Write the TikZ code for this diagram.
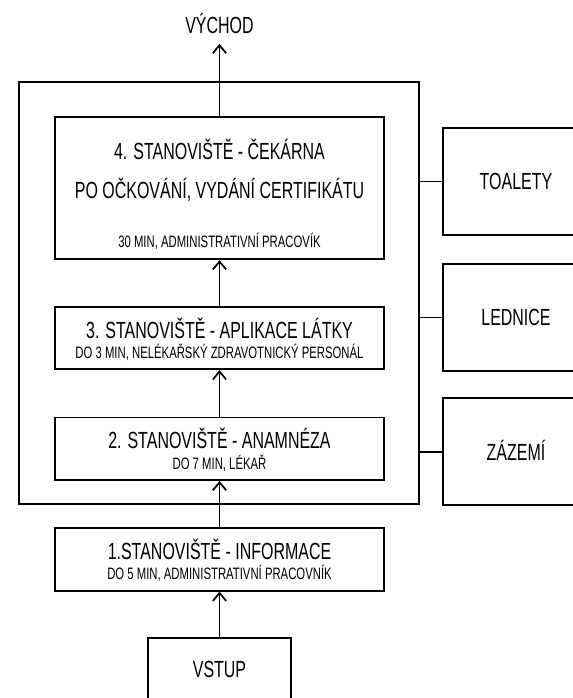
\documentclass[tikz,border=0pt]{standalone}
\usepackage{fontspec}
\setsansfont[FakeStretch=0.685]{Liberation Sans}
\usetikzlibrary{arrows.meta}
\tikzset{
  every picture/.style={font=\sffamily, line width=1.3pt},
  station/.style={draw, minimum width=246.75pt, inner sep=0pt},
  room/.style={draw, minimum width=109.5pt, minimum height=80.25pt, inner sep=0pt,
    font=\sffamily\fontsize{17.5}{20}\selectfont, text height=12.5pt, text depth=0pt},
  headline/.style={anchor=base, inner sep=0pt, font=\sffamily\fontsize{17.5}{20}\selectfont},
  detail/.style={anchor=base, inner sep=0pt, font=\sffamily\fontsize{12.4}{15}\selectfont},
  flow/.style={-{Straight Barb[length=6pt, width=10pt]}},
}

\begin{document}
\begin{tikzpicture}[x=0.75pt, y=-0.75pt]
  \useasboundingbox (0,0) rectangle (572,698);
  % hall with the stations
  \node[draw, inner sep=0pt, minimum width=300pt, minimum height=317pt] (hall) at (219.3,293) {};
  \node[station, minimum height=106.5pt] (cek) at (219.5,188.3) {};
  \node[headline] (cek1) at (219.5,159.3) {4. STANOVIŠTĚ - ČEKÁRNA};
  \node[headline] (cek2) at (219.5,198.3) {PO OČKOVÁNÍ, VYDÁNÍ CERTIFIKÁTU};
  \node[detail] (cek3) at (219.5,247.5) {30 MIN, ADMINISTRATIVNÍ PRACOVÍK};
  \node[station, minimum height=46.5pt] (apl) at (219.5,338.3) {};
  \node[headline] (apl1) at (219.5,338.3) {3. STANOVIŠTĚ - APLIKACE LÁTKY};
  \node[detail] (apl2) at (219.5,358.8) {DO 3 MIN, NELÉKAŘSKÝ ZDRAVOTNICKÝ PERSONÁL};
  \node[station, minimum height=46.9pt] (anam) at (219.5,448.8) {};
  \node[headline] (anam1) at (219.5,448.5) {2. STANOVIŠTĚ - ANAMNÉZA};
  \node[detail] (anam2) at (219.5,469) {DO 7 MIN, LÉKAŘ};
  % outside the hall
  \node[station, minimum height=46.8pt] (info) at (219.5,559.5) {};
  \node[headline] (info1) at (219.5,559.3) {1.STANOVIŠTĚ - INFORMACE};
  \node[detail] (info2) at (219.5,579.8) {DO 5 MIN, ADMINISTRATIVNÍ PRACOVNÍK};
  \node[room, minimum width=107pt, minimum height=46.5pt] (vstup) at (219.5,669) {VSTUP};
  \node[headline, inner ysep=6.75pt, text depth=0pt] (exit) at (219.5,34) {VÝCHOD};
  \node[room] (toalety) at (516,181.5) {TOALETY};
  \node[room] (lednice) at (516,317.5) {LEDNICE};
  \node[room] (zazemi) at (516,451.7) {ZÁZEMÍ};
  % flow of the visitor
  \draw[flow] (vstup.north) -- (info.south);
  \draw[flow] (info.north) -- (anam.south);
  \draw[flow] (anam.north) -- (apl.south);
  \draw[flow] (apl.north) -- (cek.south);
  \draw[flow] (cek.north) -- (exit.south);
  \foreach \r in {toalety, lednice, zazemi}
    \draw (\r.west) -- (\r.west -| hall.east);
\end{tikzpicture}
\end{document}
